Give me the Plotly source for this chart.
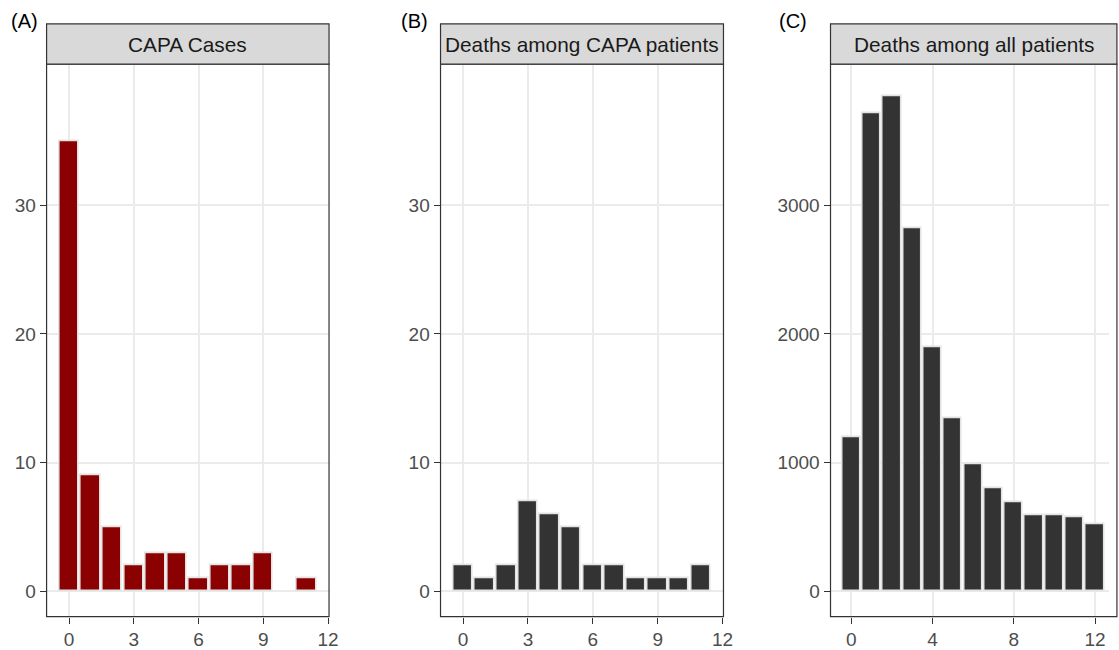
import plotly.graph_objects as go

# ---- data ----
x_a = [0, 1, 2, 3, 4, 5, 6, 7, 8, 9, 11]
capa_cases = [35, 9, 5, 2, 3, 3, 1, 2, 2, 3, 1]

x_b = [0, 1, 2, 3, 4, 5, 6, 7, 8, 9, 10, 11]
capa_deaths = [2, 1, 2, 7, 6, 5, 2, 2, 1, 1, 1, 2]

x_c = [0, 1, 2, 3, 4, 5, 6, 7, 8, 9, 10, 11, 12]
all_deaths = [1200, 3715, 3850, 2825, 1900, 1345, 990, 805, 695, 590, 590, 580, 520]

strip_titles = ["CAPA Cases", "Deaths among CAPA patients", "Deaths among all patients"]
panel_labels = ["(A)", "(B)", "(C)"]

W, H = 1119, 650
FONT = "Liberation Sans, Arial, Helvetica, sans-serif"
OUTLINE = "#E3E3E3"

fig = go.Figure()
fig.add_trace(go.Bar(x=x_a, y=capa_cases, width=0.9, marker=dict(color="#8B0000", line=dict(color=OUTLINE, width=1.6)),
                     xaxis="x", yaxis="y", showlegend=False))
fig.add_trace(go.Bar(x=x_b, y=capa_deaths, width=0.9, marker=dict(color="#333333", line=dict(color=OUTLINE, width=1.6)),
                     xaxis="x2", yaxis="y2", showlegend=False))
fig.add_trace(go.Bar(x=x_c, y=all_deaths, width=0.9, marker=dict(color="#333333", line=dict(color=OUTLINE, width=1.6)),
                     xaxis="x3", yaxis="y3", showlegend=False))

px = lambda v: v / W
py = lambda v: (H - v) / H

doms = [(px(47), px(332)), (px(444.5), px(730)), (px(838), 1.0)]
ydom = (py(617.5), py(64.3))
xranges = [[-1.045, 12.045], [-1.045, 12.045], [-1.02, 12.684]]
xticks = [[0, 3, 6, 9, 12], [0, 3, 6, 9, 12], [0, 4, 8, 12]]
yranges = [[-1.95, 40.95], [-1.95, 40.95], [-195, 4095]]
yticks = [[0, 10, 20, 30], [0, 10, 20, 30], [0, 1000, 2000, 3000]]

tickfont = dict(family=FONT, size=19, color="#4D4D4D")
layout = dict(
    width=W, height=H, margin=dict(l=0, r=0, t=0, b=0),
    paper_bgcolor="white", plot_bgcolor="white", bargap=0,
    font=dict(family=FONT),
)
for i in range(3):
    sx = "" if i == 0 else str(i + 1)
    layout["xaxis" + sx] = dict(
        domain=list(doms[i]), range=xranges[i], tickvals=xticks[i], anchor="y" + sx,
        showgrid=True, gridcolor="#EBEBEB", gridwidth=1.5, zeroline=False,
        ticks="outside", ticklen=6, tickwidth=1.4, tickcolor="#333333",
        tickfont=tickfont, showline=False, fixedrange=True,
    )
    layout["yaxis" + sx] = dict(
        domain=list(ydom), range=yranges[i], tickvals=yticks[i], anchor="x" + sx,
        showgrid=True, gridcolor="#EBEBEB", gridwidth=1.5, zeroline=False,
        ticks="outside", ticklen=6, tickwidth=1.4, tickcolor="#333333",
        tickfont=tickfont, showline=False, fixedrange=True,
    )
fig.update_layout(**layout)

shapes = []
annotations = []
strip_right = [px(332), px(730), px(1127)]
label_x = [9, 403, 784]
for i in range(3):
    x0 = doms[i][0]
    x1 = strip_right[i]
    # panel border
    shapes.append(dict(type="rect", xref="paper", yref="paper", x0=x0, x1=x1, y0=ydom[0], y1=ydom[1],
                       line=dict(color="#333333", width=1.2), fillcolor="rgba(0,0,0,0)", layer="above"))
    # strip
    shapes.append(dict(type="rect", xref="paper", yref="paper", x0=x0, x1=x1, y0=ydom[1], y1=py(24),
                       line=dict(color="#333333", width=1.2), fillcolor="#D9D9D9", layer="above"))
    annotations.append(dict(text=strip_titles[i], xref="paper", yref="paper", x=(x0 + x1) / 2, y=py(44.5),
                            xanchor="center", yanchor="middle", showarrow=False,
                            font=dict(family=FONT, size=20.8, color="#1A1A1A")))
    annotations.append(dict(text=panel_labels[i], xref="paper", yref="paper", x=px(label_x[i]), y=py(21),
                            xanchor="left", yanchor="middle", showarrow=False,
                            font=dict(family=FONT, size=20, color="#000000")))
fig.update_layout(shapes=shapes, annotations=annotations)

fig.write_html("out.html", config={"displayModeBar": False})
